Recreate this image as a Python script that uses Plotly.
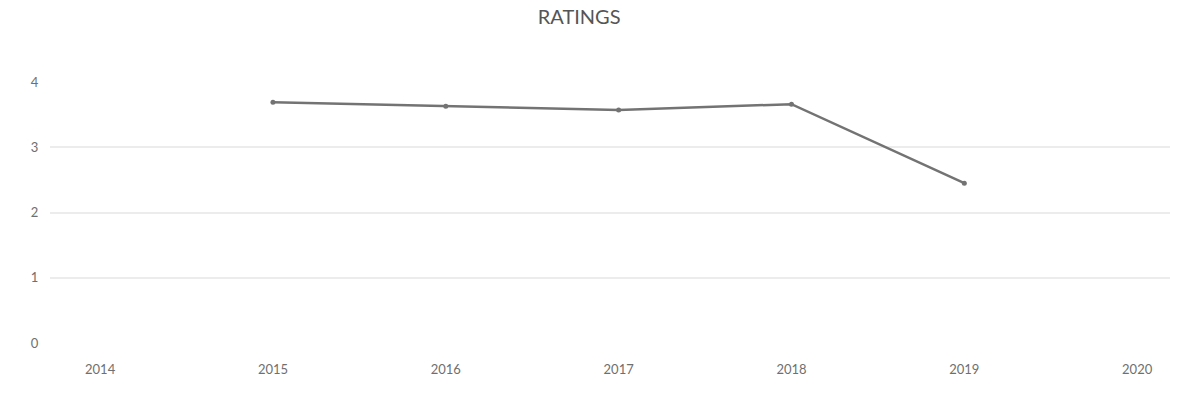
import plotly.graph_objects as go

# Yearly ratings
years = [2015, 2016, 2017, 2018, 2019]
ratings = [3.69, 3.63, 3.57, 3.66, 2.45]

x_ticks = [2014, 2015, 2016, 2017, 2018, 2019, 2020]
y_ticks = [0, 1, 2, 3, 4]

fig = go.Figure()
fig.add_trace(go.Scatter(
    x=years, y=ratings, mode="lines+markers",
    line=dict(color="#737373", width=2.5),
    marker=dict(color="#737373", size=5),
))

fig.update_layout(
    width=1182, height=401,
    margin=dict(l=50, r=12, t=82, b=58),
    paper_bgcolor="white", plot_bgcolor="white",
    showlegend=False,
    title=dict(
        text="RATINGS", x=0.49, xanchor="center",
        y=0.975, yanchor="top",
        font=dict(family="Lato", size=20, color="#555"),
    ),
    font=dict(family="Lato", size=13, color="#6f6f6f"),
    xaxis=dict(
        range=[2013.71, 2020.19], tickvals=x_ticks,
        ticktext=[str(v) for v in x_ticks],
        showgrid=False, zeroline=False, showline=False,
        ticks="outside", ticklen=14, tickcolor="rgba(0,0,0,0)",
    ),
    yaxis=dict(
        range=[0, 4], tickvals=y_ticks,
        gridcolor="#ececec", gridwidth=1.5,
        zeroline=False, showline=False,
        ticks="outside", ticklen=8, tickcolor="rgba(0,0,0,0)",
    ),
)

fig.write_html("out.html")
